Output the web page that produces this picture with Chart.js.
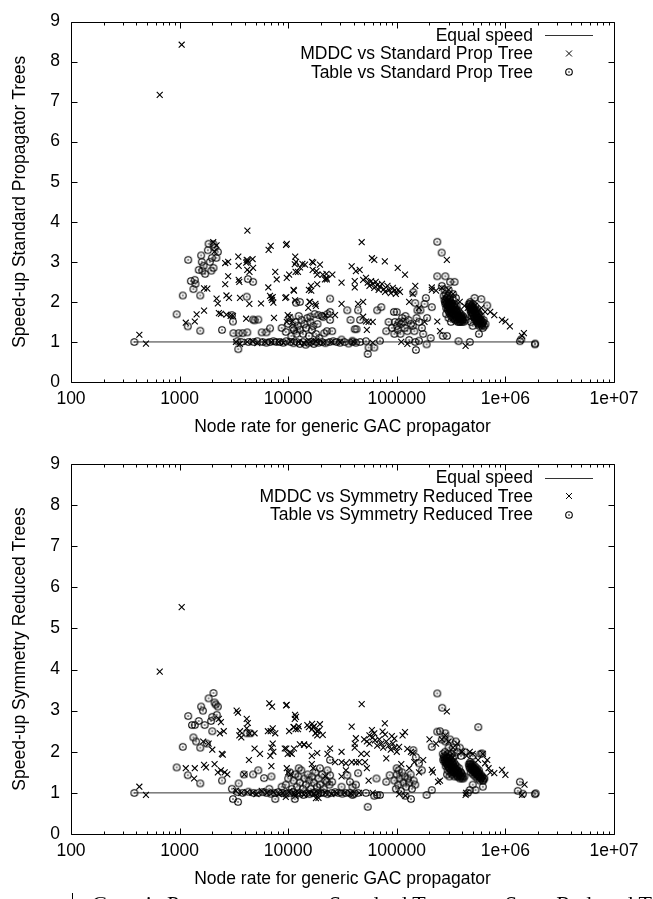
<!DOCTYPE html>
<html>
<head>
<meta charset="utf-8">
<script src="https://cdn.jsdelivr.net/npm/chart.js@4.4.1/dist/chart.umd.min.js"></script>
<style>
  html, body { margin:0; padding:0; background:#fff; width:653px; height:899px; overflow:hidden; }
  #c1 { position:absolute; left:0; top:0; }
  #c2 { position:absolute; left:0; top:440px; }
  .cap { position:absolute; top:893px; font-family:"Liberation Serif", serif; font-size:22px; line-height:22px; color:#000; white-space:nowrap; }
  #bar { position:absolute; left:72px; top:893px; width:1px; height:6px; background:#000; }
</style>
</head>
<body>
<canvas id="c1" width="653" height="440"></canvas>
<canvas id="c2" width="653" height="452"></canvas>
<div id="bar"></div>
<div class="cap" style="left:92px">Generic Propagator</div>
<div class="cap" style="left:329px">Standard Trees</div>
<div class="cap" style="left:505px">Sym. Reduced Trees</div>
<script>
// ---------------- DATA ----------------
const xTickValues = [100, 1000, 10000, 100000, 1000000, 10000000];
const xTickLabels = ["100", "1000", "10000", "100000", "1e+06", "1e+07"];
const yTickValues = [0, 1, 2, 3, 4, 5, 6, 7, 8, 9];

const seriesLabelsStd = ["Equal speed", "MDDC vs Standard Prop Tree", "Table vs Standard Prop Tree"];
const seriesLabelsSym = ["Equal speed", "MDDC vs Symmetry Reduced Tree", "Table vs Symmetry Reduced Tree"];
const yTitleStd = "Speed-up Standard Propagator Trees";
const yTitleSym = "Speed-up Symmetry Reduced Trees";
const xTitle = "Node rate for generic GAC propagator";

const equalLineX = [383, 1880000];
const equalLineY = [1, 1];

// MDDC vs Standard Prop Tree  [node rate, speed-up]
const stdMddc = [
[1045,8.42],[656,7.17],[4210,3.78],[426,1.18],[490,0.96],
[1140,1.48],[1380,1.51],[1435,1.69],[1680,1.78],[2040,3.49],[2190,3.41],[2100,3.26],[1680,2.34],[1800,2.33],
[2190,2.08],[2250,1.96],[2300,1.72],[2400,1.70],[2630,2.97],[2800,3.0],[2800,2.64],[2630,2.44],[2700,2.16],
[2850,2.1],[2700,1.68],[2950,1.65],[3100,1.65],[3470,3.13],[3500,2.9],[3500,2.55],[3550,2.5],[3600,2.1],
[4150,3.05],[4200,3.0],[4250,3.03],[4100,2.98],[4200,2.8],[4400,2.75],[4700,3.07],[4750,2.85],[4390,1.95],
[4100,1.58],[5620,1.96],[6560,2.36],[6600,3.3],[6900,3.4],[6800,2.15],[7000,2.1],[7200,2.12],[7100,2.05],
[7300,1.98],[7400,1.6],[7840,2.56],[7600,2.75],[9550,3.42],[9400,2.1],[9700,2.6],[10200,2.68],[10970,1.51],
[11500,2.94],[11800,3.0],[11600,3.13],[11200,2.3],[11700,2.75],[12300,2.75],[12850,2.86],[13500,2.95],
[15300,1.85],[15700,2.0],[15500,2.3],[16200,2.4],[16600,3.0],[17000,2.98],[16800,2.8],[19600,2.93],
[18000,1.9],[21800,2.56],[22500,2.7],[18500,2.68],[22500,2.6],[9700,3.45],
[14300,2.93],[18200,2.77],[20800,2.68],[22700,2.56],[25500,2.68],[18500,2.44],[16300,2.28],[11300,2.28],
[9600,2.12],[11560,2.04],[15900,2.0],[17800,1.95],[31000,2.48],[38400,2.89],[42000,2.77],[45500,2.8],
[41000,2.52],[41000,2.36],[47500,3.49],[59000,3.09],[62000,3.05],[77600,3.01],[102000,2.85],[119000,2.68],
[49000,2.55],[52000,2.6],[54000,2.48],[56000,2.4],[58000,2.52],[60000,2.45],[62000,2.35],[64000,2.5],
[66000,2.42],[68000,2.3],[70000,2.38],[73000,2.45],[76000,2.32],[78000,2.25],[82000,2.4],[85000,2.3],
[88000,2.22],[92000,2.35],[95000,2.28],[98000,2.2],[103000,2.3],[107000,2.25],
[31000,1.95],[44000,1.95],[49000,2.0],[49000,1.63],[52000,1.51],[55000,1.5],[53000,1.3],[60000,1.5],
[27000,1.67],[22000,1.67],[9900,1.67],[10300,1.62],[9700,1.5],[148000,2.4],[140000,2.2],[210000,2.36],
[289000,3.05],[250000,1.27],[236000,1.51],[430000,0.9],
[725000,1.75],[790000,1.67],[930000,1.55],[1000000,1.51],[1100000,1.39],[1480000,1.22],[1420000,1.15],
[3300,1.0],[3600,0.95],[4200,1.0],[4700,1.02],[5200,0.97],[6100,1.0],[7000,1.0],[8200,1.0],[9000,0.98],
[10500,1.02],[12500,1.0],[14000,0.97],[16000,1.0],[18000,1.02],[21000,0.98],[25000,1.0],[30000,1.0],
[40000,1.0],[60000,0.98],[110000,1.0],[125000,0.95],
[130000,2.0],[160000,1.85],[180000,1.5],
[210000,2.3],[230000,2.28],[260000,2.35],[300000,2.3],[330000,2.2],[380000,2.0],[420000,1.9],[450000,1.85],
[480000,1.8],[520000,1.9],[600000,1.85],[650000,1.75]
];

// Table vs Standard Prop Tree
const stdTable = [
[383,1.0],[940,1.69],[1070,2.16],[1190,1.39],[1200,3.05],[1270,2.52],[1380,2.55],[1340,2.32],[1400,2.45],
[1550,2.16],[1550,1.28],[1580,3.16],[1600,3.0],[1660,2.9],[1620,2.78],[1720,2.7],[1500,2.8],[1820,3.29],
[1850,3.45],[1960,2.78],[1900,3.0],[1980,3.1],[2050,3.44],[2100,3.35],[2250,3.25],[2180,3.1],[2050,2.85],
[2460,1.3],[3030,1.67],[3100,1.51],[3130,1.22],[3500,1.22],[3800,1.22],[4200,1.24],[3470,0.82],[4150,2.13],
[4250,2.57],[4750,2.5],[4750,1.56],[4900,1.54],[5300,1.56],[5700,1.24],[6300,1.24],[6800,1.34],
[3400,1.02],[3700,1.0],[4300,1.0],[4800,1.0],[5200,1.02],[5800,1.0],[6300,0.98],[6800,1.0],[7300,1.02],
[7800,1.0],[8400,1.0],[9000,0.98],[9600,1.02],[10500,1.0],[11200,0.97],[12000,1.0],[12800,0.95],[13700,1.0],
[14500,0.93],[15300,0.98],[16200,1.0],[17200,0.95],[18100,1.0],[19000,0.98],[20500,1.0],[22000,0.97],
[24000,1.0],[26000,1.02],[28000,1.0],[30000,0.98],[33000,1.0],[36000,0.96],[39000,1.0],[42000,0.98],[46000,1.0],
[8700,1.35],[9500,1.25],[10000,1.45],[10300,1.6],[10700,1.15],[11000,1.35],[11300,1.3],[11600,1.5],[11900,1.2],
[12200,1.4],[12500,1.65],[12900,1.3],[13300,1.55],[13700,1.2],[14100,1.45],[14600,1.35],[15000,1.6],[15500,1.15],
[16000,1.5],[16500,1.3],[17000,1.4],[17500,1.7],[18100,1.2],[18600,1.45],[19300,1.1],[11800,1.98],[12800,2.0],
[20500,1.65],[21000,1.62],[21500,1.22],[23000,1.7],[16000,1.63],[19000,1.67],
[24300,2.08],[24300,1.75],[24300,1.55],[22700,1.27],[25400,1.27],[31000,1.06],[35000,1.79],[37500,1.55],
[41000,1.32],[42500,1.32],[44000,1.79],[46000,1.55],[39000,1.03],[55000,0.86],[54000,0.70],[62000,0.86],
[52000,1.02],[72000,1.87],[66000,1.79],[70000,1.03],[80000,1.27],[84000,1.5],[94000,1.75],[99700,1.75],
[96000,1.5],[105000,1.5],[110000,1.45],[115000,1.5],[118000,1.35],[125000,1.27],[102000,1.3],[108000,1.2],
[142000,2.24],[148000,1.97],[155000,1.79],[165000,1.79],[145000,1.27],[148000,1.0],[188000,0.94],[150000,0.8],
[210000,1.87],[205000,1.1],[236000,3.5],[259000,3.23],[236000,2.64],[280000,2.64],[310000,2.5],[340000,2.5],
[265000,1.15],[290000,1.15],[370000,1.02],[470000,1.0],
[90000,1.35],[95000,1.2],[100000,1.4],[112000,1.6],[120000,1.65],[128000,1.55],[135000,1.45],[140000,1.4],
[152000,1.6],[160000,1.5],[170000,1.35],[175000,1.2],[130000,1.05],[160000,1.03],[190000,1.6],[180000,1.95],[185000,2.1],
[270000,2.15],[275000,2.05],[280000,1.95],[282000,2.2],[285000,1.85],[288000,2.1],[290000,2.0],[293000,1.9],
[295000,1.8],[297000,2.15],[300000,2.05],[302000,1.95],[304000,1.75],[306000,1.85],[308000,2.1],[310000,1.7],
[312000,2.0],[314000,1.9],[316000,1.8],[318000,1.65],[320000,1.95],[322000,1.85],[325000,1.75],[327000,2.05],
[330000,1.6],[332000,1.9],[335000,1.8],[338000,1.7],[340000,1.95],[343000,1.55],[346000,1.85],[349000,1.75],
[352000,1.65],[355000,1.9],[358000,1.6],[362000,1.8],[366000,1.7],[370000,1.55],[374000,1.75],[378000,1.65],
[383000,1.5],[388000,1.7],[393000,1.6],[398000,1.55],[405000,1.65],[412000,1.5],[420000,1.6],[430000,1.55],
[300000,1.6],[315000,1.5],[285000,1.7],[330000,2.2],[350000,2.1],[300000,2.3],[260000,2.4],[275000,2.3],
[278000,2.0],[283000,2.05],[287000,1.95],[291000,2.1],[294000,1.85],[298000,1.9],[301000,2.0],[303000,1.85],
[307000,1.95],[309000,1.8],[311000,1.9],[313000,1.75],[317000,1.9],[319000,1.75],[323000,1.95],[324000,1.7],
[328000,1.8],[331000,1.7],[334000,1.9],[337000,1.6],[341000,1.8],[344000,1.65],[347000,1.7],[351000,1.8],
[354000,1.55],[357000,1.75],[361000,1.65],[364000,1.5],[368000,1.65],[372000,1.6],[376000,1.5],[381000,1.6],
[386000,1.55],[391000,1.65],[396000,1.5],[402000,1.6],[408000,1.55],
[460000,1.95],[470000,1.85],[475000,2.0],[480000,1.75],[485000,1.9],[490000,1.65],[495000,1.8],[500000,1.95],
[505000,1.7],[510000,1.85],[515000,1.6],[520000,1.75],[525000,1.9],[530000,1.55],[535000,1.7],[540000,1.8],
[545000,1.5],[550000,1.65],[555000,1.75],[560000,1.45],[565000,1.6],[570000,1.7],[575000,1.4],[580000,1.55],
[590000,1.65],[600000,1.45],[610000,1.5],[620000,1.35],[630000,1.55],[640000,1.4],[655000,1.45],[680000,1.91],
[600000,2.07],[570000,1.2],[520000,2.1],[480000,1.5],[500000,1.4],
[465000,1.9],[472000,1.95],[478000,1.8],[483000,1.85],[488000,1.75],[493000,1.9],[497000,1.7],[502000,1.8],
[507000,1.85],[512000,1.65],[517000,1.8],[522000,1.6],[527000,1.7],[532000,1.75],[537000,1.6],[542000,1.65],
[548000,1.55],[553000,1.6],[558000,1.7],[563000,1.5],[568000,1.55],[573000,1.6],[578000,1.45],[585000,1.5],
[595000,1.55],[605000,1.4],[615000,1.45],[625000,1.5],
[1360000,1.02],[1400000,1.07],[1870000,0.94],[1880000,0.96]
];

// MDDC vs Symmetry Reduced Tree
const symMddc = [
[1045,5.52],[656,3.95],[426,1.15],[490,0.95],[1140,1.6],[1380,1.6],[1360,1.35],[1680,1.68],[1750,1.62],
[1650,2.25],[1850,2.2],[2000,2.05],[2100,1.7],[2250,1.5],[2400,1.55],[2600,1.5],[2750,1.45],[2300,2.8],
[2400,2.72],[2550,2.5],[2350,2.45],[2450,1.95],[2500,1.93],[3350,3.0],[3450,2.95],[3550,2.4],[3700,2.35],
[3600,2.5],[4150,2.8],[4250,2.7],[4150,2.57],[4400,2.45],[4900,2.45],[4350,1.8],[4900,2.08],[5500,1.95],
[3950,1.45],[6700,3.18],[7100,3.1],[6500,2.5],[6900,2.5],[7200,2.57],[7000,2.1],[7200,2.2],[6850,1.9],
[7300,2.0],[7600,2.45],[7000,1.65],[9550,3.13],[9300,2.08],[9900,1.95],[10200,2.5],[11500,2.8],[11700,2.55],
[11200,2.6],[12300,2.55],[10800,1.95],[10500,1.45],[12800,2.18],[14000,2.18],[15000,2.65],[15500,2.6],
[17000,2.6],[16500,1.9],[17800,2.45],[18500,2.4],
[9700,3.14],[11560,2.9],[11800,2.85],[11300,2.6],[12500,2.62],[16600,2.68],[17300,2.62],[19600,2.67],
[16600,2.55],[18500,2.5],[19200,2.52],[20800,2.41],[9600,2.08],[11300,2.08],[14000,2.17],[15500,2.15],
[10500,1.97],[18500,1.97],[24300,2.08],[23000,1.95],[31000,2.0],[27000,1.75],[31000,1.75],[34000,1.72],
[38500,1.75],[42000,1.74],[45000,1.75],[47000,1.95],[53000,1.95],[51000,1.75],[53000,1.6],[55000,1.3],
[34000,1.55],[31000,1.4],[22000,1.4],[17000,1.6],[16500,1.7],[9700,1.6],[10000,1.5],[9500,0.9],[11600,0.92],
[18000,0.87],[38400,2.61],[42000,2.33],[47500,3.16],[41000,2.2],[41000,2.1],[59000,2.53],[62000,2.45],
[56000,2.4],[74000,2.49],[78000,2.42],[77600,2.69],
[50000,2.3],[53000,2.25],[56000,2.2],[60000,2.35],[63000,2.28],[66000,2.15],[69000,2.3],[72000,2.2],
[75000,2.1],[80000,2.25],[84000,2.15],[88000,2.05],[92000,2.2],[96000,2.1],[100000,2.0],[105000,2.12],
[90000,2.38],[95000,2.32],[119000,2.48],[113000,2.4],[125000,2.07],[135000,2.0],[140000,1.97],[80000,1.84],
[210000,1.56],[200000,2.3],[289000,2.98],[250000,1.3],[430000,0.95],[435000,1.0],
[725000,1.5],[790000,1.48],[930000,1.56],[1000000,1.44],[650000,1.72],[700000,1.6],[1500000,1.2],
[1420000,0.95],[215000,1.5],[240000,1.27],[560000,1.8],[500000,1.95],
[3300,1.05],[3700,1.0],[4200,1.02],[4700,1.0],[5100,0.97],[5700,1.05],[6400,1.0],[7300,1.02],[8200,0.97],
[9000,1.0],[10200,1.03],[11400,0.98],[12500,1.0],[14000,0.95],[15600,1.0],[17200,0.98],[19000,1.0],
[19000,0.88],[22000,1.0],[25000,0.97],[28000,1.0],[33000,1.0],[38000,0.98],[45000,1.0],[60000,1.0],
[105000,0.97],[120000,0.93],
[110000,1.7],[130000,1.6],[145000,1.75],[160000,1.5],[175000,1.8],
[230000,2.2],[260000,2.3],[280000,2.4],[300000,2.25],[330000,2.1],[360000,2.2],[400000,2.0],[440000,1.9],
[470000,2.0],[620000,1.95],[680000,1.8]
];

// Table vs Symmetry Reduced Tree
const symTable = [
[383,1.0],[940,1.62],[1070,2.12],[1190,1.43],[1200,2.87],[1300,2.65],[1380,2.65],[1340,2.35],[1420,2.25],
[1550,2.1],[1550,1.23],[1580,3.1],[1640,3.0],[1700,2.65],[1500,2.75],[1850,3.3],[1780,2.2],[1950,2.75],
[2000,2.85],[2050,3.43],[2100,3.2],[2150,3.15],[2250,3.1],[2200,2.9],[2000,2.5],[2460,1.3],[3030,1.1],
[3500,1.23],[3900,1.45],[3100,0.85],[3450,0.78],[4150,2.45],[4500,2.45],[4750,1.45],[5300,1.55],[6000,1.36],
[6700,1.1],[7600,0.85],[7000,1.4],
[3400,1.02],[3800,1.0],[4300,1.03],[4800,1.0],[5300,1.0],[5800,1.02],[6300,1.0],[6900,0.98],[7500,1.0],
[8100,1.02],[8800,1.0],[9500,0.97],[10300,1.0],[11100,1.02],[12000,0.98],[12900,1.0],[13800,0.95],[14800,1.0],
[15800,0.97],[16800,1.0],[17800,1.02],[18900,0.98],[20000,1.0],[21500,1.0],[23000,0.97],[25000,1.0],
[27000,1.02],[29000,1.0],[31500,0.98],[34000,1.0],[37000,1.0],[40000,0.97],[44000,1.0],
[8700,1.15],[9500,1.2],[10000,1.35],[10400,1.5],[10800,1.1],[11200,1.3],[11600,1.45],[12000,1.15],[12400,1.4],
[12800,1.25],[13200,1.55],[13700,1.1],[14100,1.35],[14600,1.2],[15100,1.45],[15600,1.3],[16100,1.1],[16600,1.4],
[17200,1.25],[17800,1.5],[18400,1.15],[19000,1.35],[19700,1.2],[20500,1.45],[21200,1.1],[22000,1.3],[23000,1.55],
[24000,1.2],[11500,0.85],[12500,1.6],
[24300,1.8],[19600,1.6],[24300,1.43],[22700,1.27],[25400,1.27],[35000,1.43],[37000,1.27],[39000,1.15],
[42000,1.2],[31000,1.15],[44000,1.48],[52000,1.0],[39000,0.95],[62000,0.93],[54000,0.66],[66000,0.95],
[70000,0.95],[65000,1.35],[80000,1.27],[86000,1.43],[99700,1.6],[104000,1.55],
[95000,1.3],[98000,1.1],[100000,1.45],[103000,1.2],[106000,1.35],[109000,1.05],[112000,1.5],[115000,1.25],
[118000,1.4],[122000,1.15],[126000,1.35],[130000,1.25],[134000,1.45],[138000,1.1],[143000,1.3],[148000,1.2],
[142000,2.04],[150000,1.87],[160000,1.72],[170000,1.55],[120000,0.93],[135000,0.85],[188000,0.95],[210000,1.07],
[210000,2.12],[236000,3.42],[262000,3.07],[236000,2.49],[250000,2.5],[280000,2.45],
[265000,1.95],[270000,1.85],[275000,1.75],[278000,2.0],[282000,1.65],[285000,1.9],[288000,1.8],[291000,1.7],
[294000,1.55],[297000,1.95],[300000,1.85],[303000,1.6],[306000,1.75],[309000,1.9],[312000,1.5],[315000,1.8],
[318000,1.65],[321000,1.7],[324000,1.45],[327000,1.85],[330000,1.6],[333000,1.75],[336000,1.55],[340000,1.4],
[344000,1.7],[348000,1.6],[352000,1.5],[356000,1.65],[360000,1.4],[365000,1.55],[370000,1.45],[375000,1.6],
[380000,1.35],[386000,1.5],[392000,1.4],[400000,1.45],[410000,1.35],[420000,1.4],[290000,1.45],[305000,1.4],
[320000,1.95],[340000,1.9],[300000,2.1],[330000,2.1],[360000,2.0],[390000,1.9],[260000,2.3],[280000,2.25],
[310000,2.3],[350000,2.25],[380000,2.1],[420000,2.0],
[268000,1.8],[273000,1.9],[277000,1.8],[281000,1.85],[284000,1.75],[287000,1.7],[290000,1.85],[293000,1.75],
[296000,1.65],[299000,1.75],[302000,1.7],[305000,1.85],[308000,1.6],[311000,1.7],[314000,1.65],[317000,1.55],
[320000,1.75],[323000,1.6],[326000,1.5],[329000,1.7],[332000,1.55],[335000,1.65],[338000,1.5],[342000,1.6],
[346000,1.5],[350000,1.55],[354000,1.45],[358000,1.55],[362000,1.5],[367000,1.4],[372000,1.5],[378000,1.45],
[384000,1.4],[390000,1.5],[396000,1.35],[404000,1.4],
[460000,1.7],[470000,1.6],[475000,1.75],[480000,1.5],[486000,1.65],[492000,1.55],[498000,1.7],[504000,1.45],
[510000,1.6],[516000,1.5],[522000,1.65],[528000,1.4],[534000,1.55],[540000,1.45],[546000,1.6],[552000,1.35],
[558000,1.5],[565000,1.4],[572000,1.55],[580000,1.3],[590000,1.45],[600000,1.35],[612000,1.4],[625000,1.3],
[640000,1.35],[563000,2.6],[610000,1.96],[590000,1.95],[500000,1.9],[620000,1.15],[500000,1.2],[530000,1.07],
[450000,1.0],[470000,1.07],
[465000,1.65],[472000,1.7],[478000,1.6],[484000,1.7],[489000,1.6],[495000,1.65],[500000,1.55],[507000,1.6],
[513000,1.55],[519000,1.6],[525000,1.5],[531000,1.55],[537000,1.5],[543000,1.55],[549000,1.45],[555000,1.5],
[562000,1.45],[568000,1.5],[575000,1.4],[585000,1.4],[595000,1.35],[605000,1.4],[618000,1.3],[632000,1.35],
[1360000,1.27],[1300000,1.05],[1450000,0.98],[1870000,0.97],[1900000,0.99]
];

// ---------------- RENDERING ----------------
const FONT = "'Liberation Sans', Arial, Helvetica, sans-serif";
const FSIZE = 17.5;

function makeCircleMarker() {
  const c = document.createElement('canvas');
  c.width = 10; c.height = 10;
  const g = c.getContext('2d');
  g.strokeStyle = '#000'; g.lineWidth = 1.1;
  g.beginPath(); g.arc(5, 5, 3.3, 0, Math.PI * 2); g.stroke();
  g.fillStyle = '#000';
  g.beginPath(); g.arc(5, 5, 0.8, 0, Math.PI * 2); g.fill();
  return c;
}
const circleMarker = makeCircleMarker();
const CROSS_R = 4.2;

function toPoints(pairs) { return pairs.map(p => ({ x: p[0], y: p[1] })); }

const framePlugin = {
  id: 'gnuFrame',
  afterDraw(chart) {
    const { ctx, chartArea: a, scales: { x, y } } = chart;
    ctx.save();
    ctx.strokeStyle = '#000';
    ctx.lineWidth = 1;
    const L = Math.round(a.left) + 0.5, R = Math.round(a.right) + 0.5;
    const T = Math.round(a.top) + 0.5, B = Math.round(a.bottom) + 0.5;
    ctx.beginPath();
    ctx.rect(L, T, R - L, B - T);
    yTickValues.forEach(v => {
      const py = Math.round(y.getPixelForValue(v)) + 0.5;
      ctx.moveTo(L, py); ctx.lineTo(L + 6, py);
      ctx.moveTo(R, py); ctx.lineTo(R - 6, py);
    });
    for (let i = 0; i < xTickValues.length; i++) {
      const base = xTickValues[i];
      const px = Math.round(x.getPixelForValue(base)) + 0.5;
      ctx.moveTo(px, B); ctx.lineTo(px, B - 6);
      ctx.moveTo(px, T); ctx.lineTo(px, T + 6);
      if (i < xTickValues.length - 1) {
        for (let m = 2; m <= 9; m++) {
          const mx = Math.round(x.getPixelForValue(base * m)) + 0.5;
          ctx.moveTo(mx, B); ctx.lineTo(mx, B - 3);
          ctx.moveTo(mx, T); ctx.lineTo(mx, T + 3);
        }
      }
    }
    ctx.stroke();

    const ds = chart.data.datasets;
    ctx.font = FSIZE + 'px ' + FONT;
    ctx.fillStyle = '#000';
    ctx.textAlign = 'right';
    ctx.textBaseline = 'middle';
    const textRight = 533, sampleL = 545, sampleR = 593, sampleC = 569;
    const rowY = [a.top + 13.5, a.top + 32, a.top + 50.5];
    ds.forEach((d, i) => {
      const yy = rowY[i];
      ctx.fillText(d.label, textRight, yy + 1);
      if (d.legendKind === 'line') {
        ctx.strokeStyle = '#333';
        ctx.beginPath();
        ctx.moveTo(sampleL, Math.round(yy) + 0.5); ctx.lineTo(sampleR, Math.round(yy) + 0.5);
        ctx.stroke();
      } else if (d.legendKind === 'cross') {
        ctx.strokeStyle = '#000';
        const o = CROSS_R * Math.SQRT1_2;
        ctx.beginPath();
        ctx.moveTo(sampleC - o, yy - o); ctx.lineTo(sampleC + o, yy + o);
        ctx.moveTo(sampleC - o, yy + o); ctx.lineTo(sampleC + o, yy - o);
        ctx.stroke();
      } else {
        ctx.drawImage(circleMarker, sampleC - 5, Math.round(yy) - 5);
      }
    });
    ctx.restore();
  }
};

function makeChart(id, labels, mddc, table, yTitle, padTop) {
  const datasets = [
    { label: labels[0], type: 'line', legendKind: 'line',
      data: equalLineX.map((v, i) => ({ x: v, y: equalLineY[i] })),
      borderColor: '#333', borderWidth: 1, pointRadius: 0, showLine: true, fill: false, order: 3 },
    { label: labels[1], legendKind: 'cross', data: toPoints(mddc),
      pointStyle: 'crossRot', pointRadius: CROSS_R, borderColor: '#000', borderWidth: 1.1,
      backgroundColor: '#000', showLine: false, order: 2 },
    { label: labels[2], legendKind: 'circle', data: toPoints(table),
      pointStyle: circleMarker, pointRadius: 4, borderColor: '#000', borderWidth: 1,
      showLine: false, order: 1 }
  ];
  return new Chart(document.getElementById(id), {
    type: 'scatter',
    data: { datasets },
    options: {
      responsive: false,
      animation: false,
      devicePixelRatio: 1,
      layout: { padding: { top: padTop, right: 39, left: 0, bottom: 0 } },
      plugins: { legend: { display: false }, tooltip: { enabled: false } },
      scales: {
        x: {
          type: 'logarithmic', min: 100, max: 10000000,
          grid: { display: false, drawTicks: false },
          border: { display: false },
          afterBuildTicks: s => { s.ticks = xTickValues.map(v => ({ value: v })); },
          afterFit: s => { s.height = 58; },
          ticks: {
            autoSkip: false, maxRotation: 0, minRotation: 0, padding: 7,
            color: '#000', font: { family: FONT, size: FSIZE },
            callback: (v, i) => xTickLabels[i]
          },
          title: { display: true, text: xTitle, color: '#000',
                   font: { family: FONT, size: FSIZE }, padding: { top: 0, bottom: 2 } }
        },
        y: {
          type: 'linear', min: 0, max: 9,
          grid: { display: false, drawTicks: false },
          border: { display: false },
          afterBuildTicks: s => { s.ticks = yTickValues.map(v => ({ value: v })); },
          afterFit: s => { s.width = 71; },
          ticks: { padding: 11, color: '#000', font: { family: FONT, size: FSIZE },
                   callback: v => String(v) },
          title: { display: true, text: yTitle, color: '#000',
                   font: { family: FONT, size: FSIZE }, padding: { top: 9.5, bottom: 0 } }
        }
      }
    },
    plugins: [framePlugin]
  });
}

makeChart('c1', seriesLabelsStd, stdMddc, stdTable, yTitleStd, 12);
makeChart('c2', seriesLabelsSym, symMddc, symTable, yTitleSym, 24);
</script>
</body>
</html>
